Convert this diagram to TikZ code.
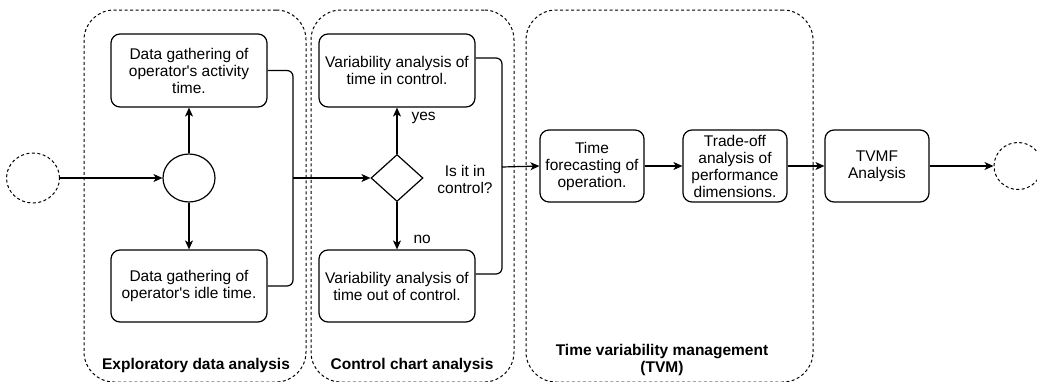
\documentclass[tikz,border=0pt]{standalone}
\usepackage{fontspec}
\setmainfont{Liberation Sans}
\usetikzlibrary{arrows.meta}
\usetikzlibrary{shapes.geometric}

\tikzset{
  task/.style={rectangle, draw, line width=1.2pt, rounded corners=9pt, align=center,
    inner sep=1pt, font=\fontsize{15.5}{17}\selectfont},
  lane/.style={draw, line width=1pt, dash pattern=on 3pt off 2.5pt, rounded corners=30pt},
  lanetitle/.style={font=\fontsize{15.5}{17}\selectfont\bfseries, align=center},
  event/.style={ellipse, draw, line width=1pt, dash pattern=on 3pt off 2.5pt, inner sep=0pt},
  flow/.style={line width=1.2pt, rounded corners=6pt, -{Stealth[length=9pt, width=8pt, inset=2.5pt]}},
  link/.style={line width=1.2pt, rounded corners=6pt},
  note/.style={font=\fontsize{15.5}{17}\selectfont, align=center}
}

\begin{document}
\begin{tikzpicture}[x=1pt, y=-1pt]
      \useasboundingbox (0, 0) rectangle (1037, 381);

      % lanes
      \node[lane, minimum width=222pt, minimum height=372pt] (eda) at (195, 196) {};
      \node[lane, minimum width=203pt, minimum height=372pt] (cca) at (412.5, 196) {};
      \node[lane, minimum width=287pt, minimum height=372pt] (tvm) at (669.5, 196) {};
      \node[lanetitle] (edatitle) at (196, 365) {Exploratory data analysis};
      \node[lanetitle] (ccatitle) at (412, 365) {Control chart analysis};
      \node[lanetitle] (tvmtitle) at (662, 359.5) {Time variability management\\(TVM)};

      % events and gateways
      \node[event, minimum width=53pt, minimum height=50pt] (start) at (33, 178) {};
      \node[event, minimum width=48pt, minimum height=47pt] (end) at (1018, 166) {};
      \node[ellipse, draw, line width=1.2pt, inner sep=0pt, minimum width=52pt, minimum height=48pt] (gate) at (189, 178) {};
      \node[diamond, draw, line width=1.2pt, inner sep=0pt, minimum width=52pt, minimum height=47pt] (check) at (397, 178) {};

      % tasks
      \node[task, minimum width=156pt, minimum height=73pt] (activity) at (189, 70.5) {Data gathering of\\operator\textquotesingle s activity\\time.};
      \node[task, minimum width=156pt, minimum height=72pt] (idle) at (189, 286) {Data gathering of\\operator\textquotesingle s idle time.};
      \node[task, minimum width=156pt, minimum height=73pt] (inctrl) at (397, 70.5) {Variability analysis of\\time in control.};
      \node[task, minimum width=156pt, minimum height=72pt] (outctrl) at (397, 286) {Variability analysis of\\time out of control.};
      \node[task, minimum width=104pt, minimum height=72pt] (forecast) at (592, 166) {Time\\forecasting of\\operation.};
      \node[task, minimum width=104pt, minimum height=72pt] (tradeoff) at (735, 166) {Trade-off\\analysis of\\performance\\dimensions.};
      \node[task, minimum width=104pt, minimum height=72pt] (tvmf) at (877, 166) {TVMF\\Analysis};

      % labels
      \node[note, anchor=west] (yes) at (408, 118) {yes};
      \node[note, anchor=west] (no) at (410, 239) {no};
      \node[note] (question) at (465, 179.5) {Is it in\\control?};

      % joins
      \coordinate (join1) at (293, 178);
      \coordinate (join2) at (502, 167);

      \draw[flow] (start) -- (gate);
      \draw[flow] (gate) -- (activity);
      \draw[flow] (gate) -- (idle);
      \draw[link] (activity.east) -| (join1);
      \draw[link] (idle.east) -| (join1);
      \draw[flow] (join1) -- (check.west);
      \draw[flow] (check) -- (inctrl);
      \draw[flow] (check) -- (outctrl);
      \draw[link] ([yshift=12.5pt]inctrl.east) -| (join2);
      \draw[link] ([yshift=12pt]outctrl.east) -| (join2);
      \draw[flow] (join2) -- (forecast.west);
      \draw[flow] (forecast) -- (tradeoff);
      \draw[flow] (tradeoff) -- (tvmf);
      \draw[flow] (tvmf) -- (end);
    \end{tikzpicture}
\end{document}
